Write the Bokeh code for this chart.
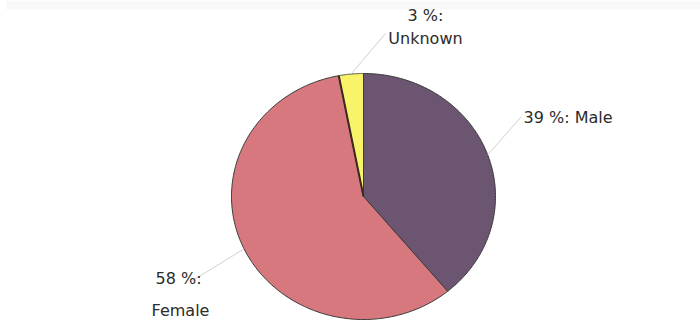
import numpy as np
from bokeh.plotting import figure
from bokeh.models import Range1d
from bokeh.core.properties import value
from bokeh.embed import file_html
from bokeh.resources import INLINE

# ---- data ----
categories = ["Male", "Female", "Unknown"]
percents = [39, 58, 3]
colors = ["#6b5571", "#d7787f", "#f9f36a"]

# ---- layout constants (pixel space) ----
W, H = 700, 321
cx, cy = 363.0, 196.0
rx, ry = 132.0, 123.0

p = figure(width=W, height=H, output_backend="svg", toolbar_location=None,
           x_range=Range1d(0, W), y_range=Range1d(H, 0), min_border=0)
p.axis.visible = False
p.grid.visible = False
p.outline_line_color = None
p.background_fill_color = "white"
p.border_fill_color = "white"

# faint top band
p.quad(left=6, right=W, top=0, bottom=9, fill_color="#f8f8f8", line_color=None)

total = float(sum(percents))
start = 90.0
xs, ys, mids, bounds = [], [], [], []
for v in percents:
    sweep = 360.0 * v / total
    end = start - sweep
    t = np.radians(np.linspace(start, end, 200))
    px = np.concatenate([[cx], cx + rx * np.cos(t), [cx]])
    py = np.concatenate([[cy], cy - ry * np.sin(t), [cy]])
    xs.append(list(px)); ys.append(list(py))
    mids.append(np.radians((start + end) / 2.0))
    bounds.append(np.radians(end))
    start = end

p.patches(xs, ys, fill_color=colors, line_color="#3a3a3a", line_width=1)

# darker edge between Female and Unknown slices
b = bounds[1]
p.segment([cx], [cy], [cx + rx * np.cos(b)], [cy - ry * np.sin(b)],
          line_color="#3a2a20", line_width=2)

# leader lines: from slice mid-point on rim to label anchor
anchors = {"Male": (521, 116), "Female": (192, 280), "Unknown": (385, 33)}
lx0, ly0, lx1, ly1 = [], [], [], []
for c, m in zip(categories, mids):
    lx0.append(cx + rx * np.cos(m)); ly0.append(cy - ry * np.sin(m))
    ax, ay = anchors[c]
    lx1.append(ax); ly1.append(ay)
p.segment(lx0, ly0, lx1, ly1, line_color="#d0d0d0", line_width=1)

font = value("DejaVu Sans")
txt_color = "#2b2b2b"
fs = "16px"

lab = {c: v for c, v in zip(categories, percents)}
p.text([523], [117], text=[f"{lab['Male']} %: Male"], text_font=font,
       text_font_size=fs, text_color=txt_color, text_align="left",
       text_baseline="middle")
p.text([425, 425], [15, 38], text=[f"{lab['Unknown']} %:", "Unknown"],
       text_font=font, text_font_size=fs, text_color=txt_color,
       text_align="center", text_baseline="middle")
p.text([178, 180], [278, 310], text=[f"{lab['Female']} %:", "Female"],
       text_font=font, text_font_size=fs, text_color=txt_color,
       text_align="center", text_baseline="middle")

open("out.html", "w").write(file_html(p, INLINE))
